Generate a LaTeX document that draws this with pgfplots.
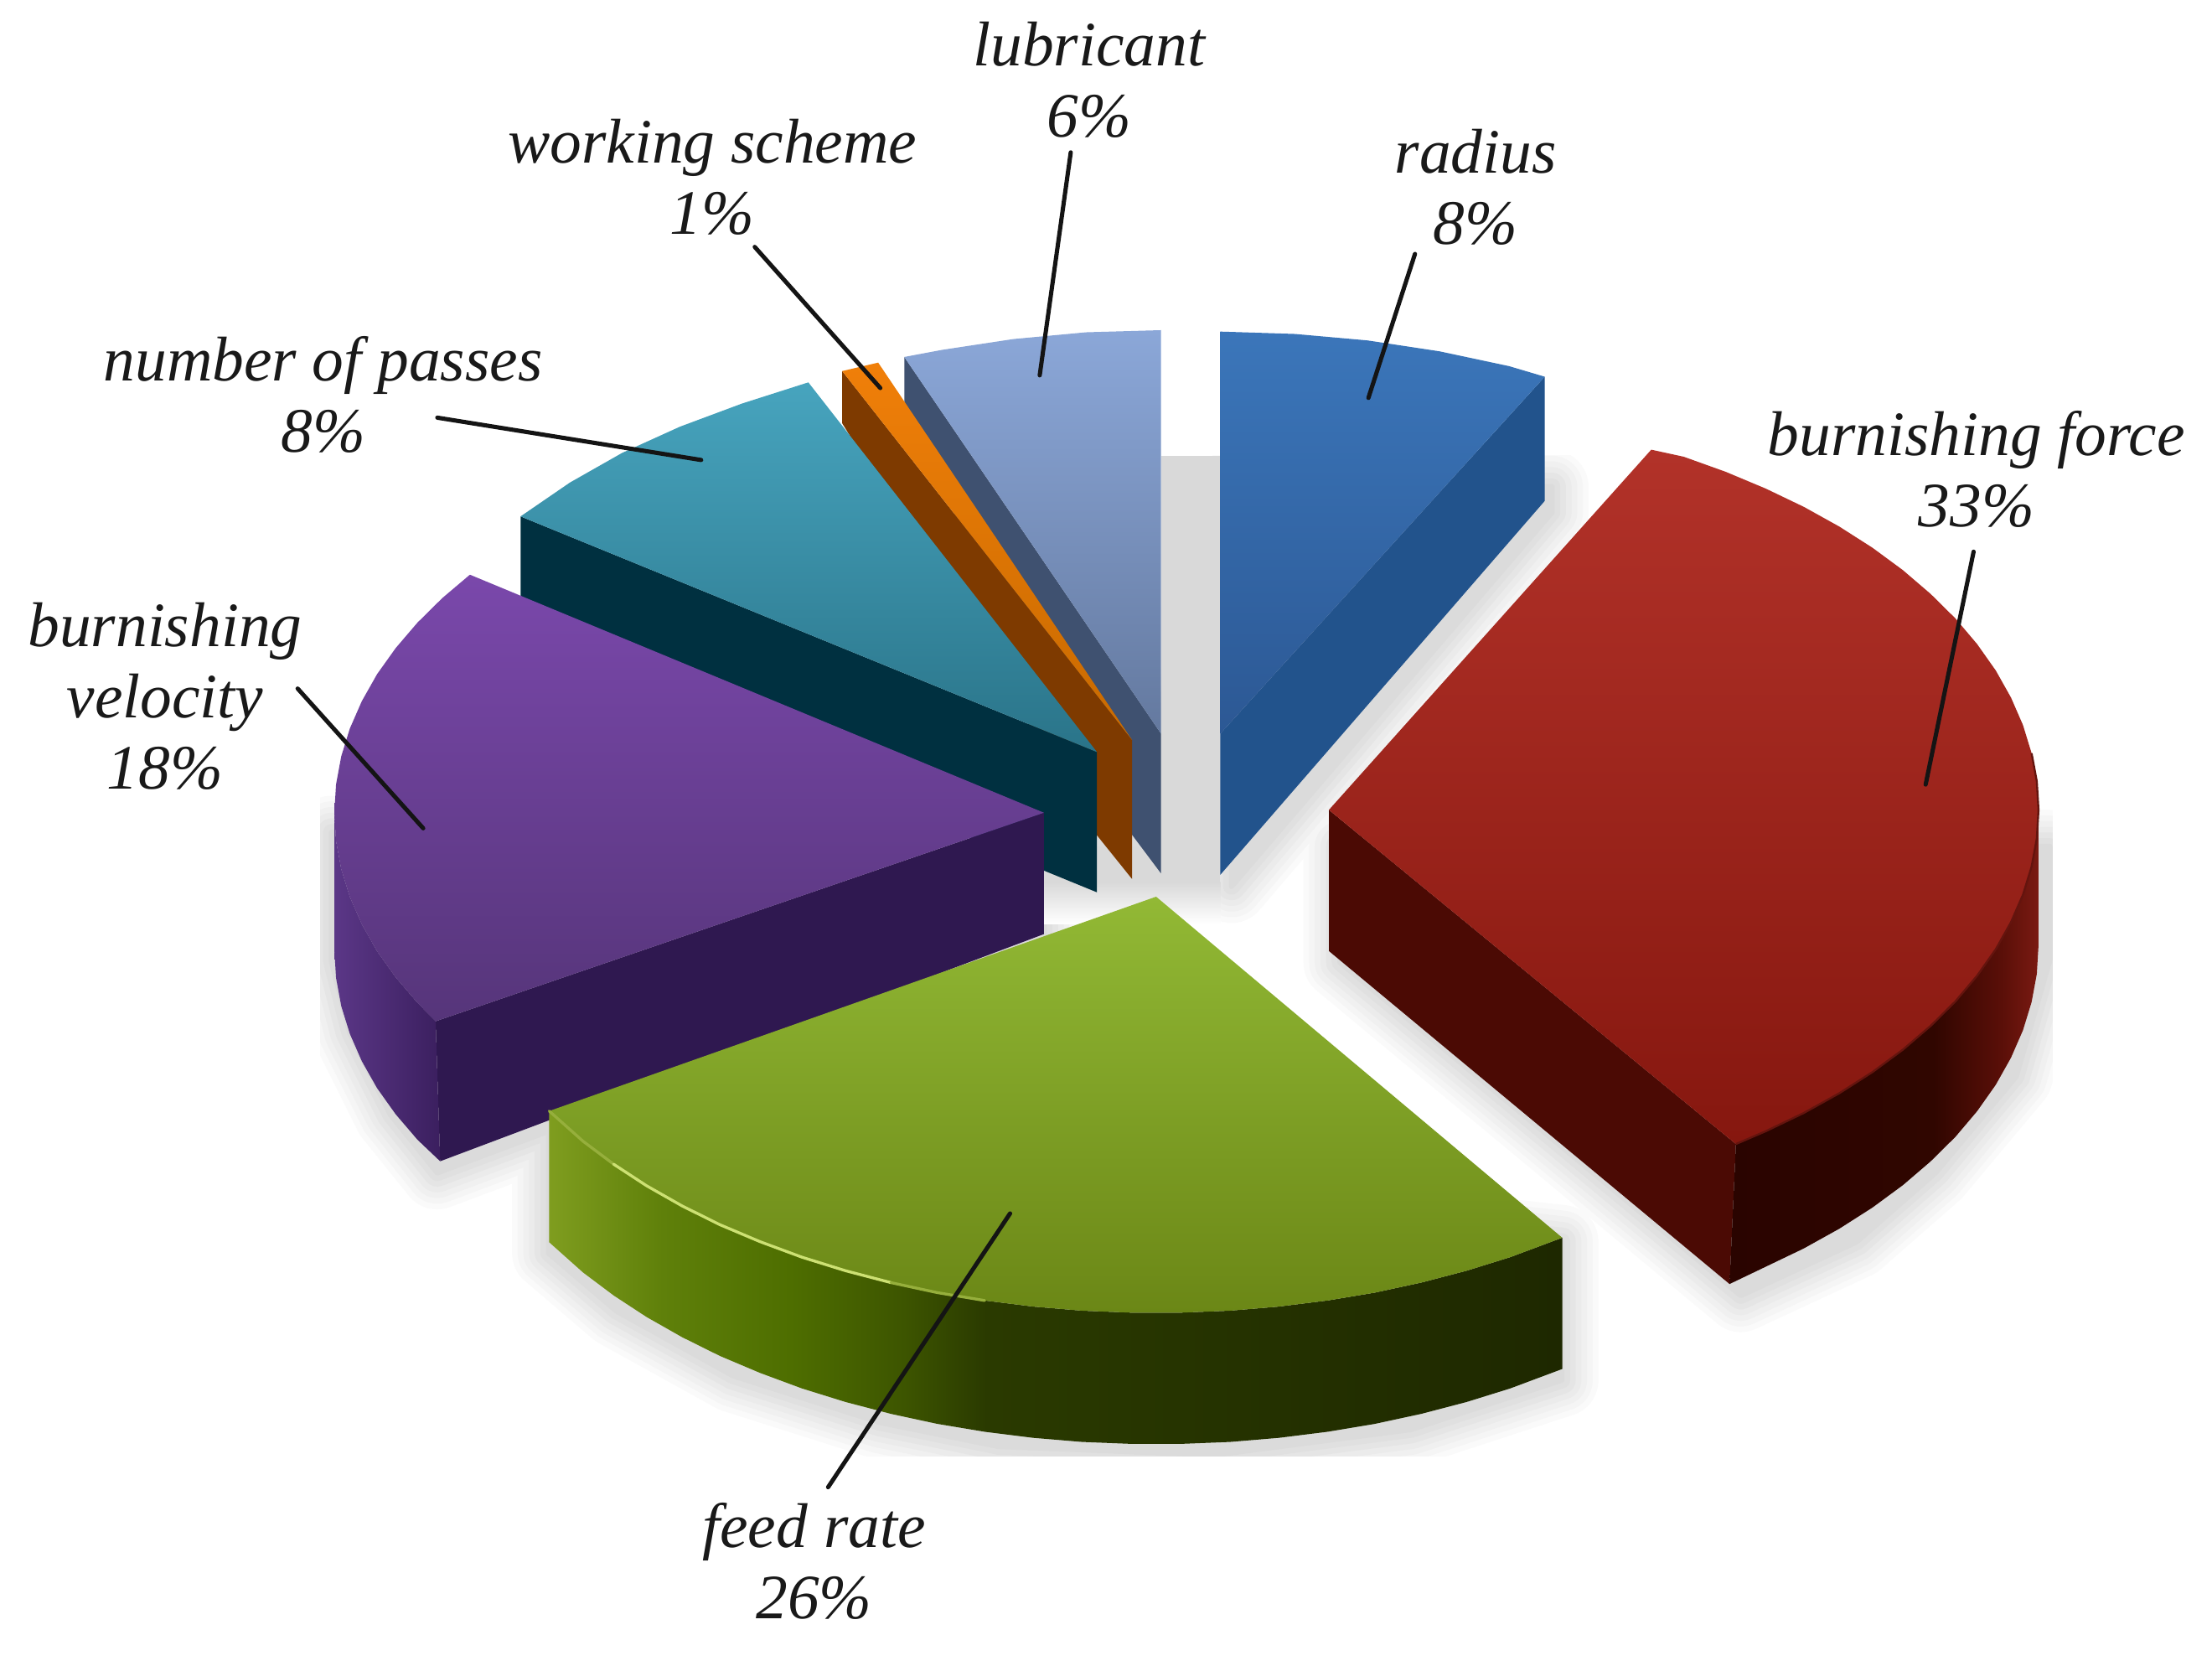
\documentclass[border=0pt]{standalone}
\usepackage{pgfplots}
\pgfplotsset{compat=1.18}
\usepackage{pgfplotstable}
\usepackage{fontspec}
\setmainfont{Liberation Serif}
\definecolor{gs1}{HTML}{7F9D1F}\definecolor{gs2}{HTML}{5F800A}\definecolor{gs3}{HTML}{4E6E00}
\definecolor{gs4}{HTML}{3D5500}\definecolor{gs5}{HTML}{2A3A00}\definecolor{gs6}{HTML}{1E2800}
\definecolor{rs1}{HTML}{2A0400}\definecolor{rs2}{HTML}{300600}\definecolor{rs3}{HTML}{5A0F08}\definecolor{rs4}{HTML}{7A1A12}
\definecolor{ps1}{HTML}{5B3787}\definecolor{ps2}{HTML}{3B1F5F}
\pgfdeclarehorizontalshading{greenside}{100bp}{color(0bp)=(gs1);color(25bp)=(gs1);color(30.6bp)=(gs2);color(36.9bp)=(gs3);color(42.5bp)=(gs4);color(46.6bp)=(gs5);color(75bp)=(gs6);color(100bp)=(gs6)}
\pgfdeclarehorizontalshading{redside}{100bp}{color(0bp)=(rs1);color(25bp)=(rs1);color(58bp)=(rs2);color(69bp)=(rs3);color(75bp)=(rs4);color(100bp)=(rs4)}
\pgfdeclarehorizontalshading{purpleside}{100bp}{color(0bp)=(ps1);color(25bp)=(ps1);color(75bp)=(ps2);color(100bp)=(ps2)}
\pgfplotstableread{
x y
950 682
1234 918
1316 880
1372 831
1429 763
1453 680
1453 600
950 600
}\shRed
\pgfplotstableread{
x y
389 888
437 929
520 975
624 1008
708 1025
861 1031
1000 1013
1107 978
1107 880
389 800
}\shGreen
\pgfplotstableread{
x y
235 681
248 732
277 790
310 831
740 670
740 590
235 590
}\shPurple
\pgfplotstableread{
x y
873 628
1100 363
1100 345
873 345
}\shBlue
\pgfplotstableread{
x y
740 625
777 640
802 631
823 627
823 500
740 500
}\shBack
\newcommand\shadowlayer[2]{%
  \addplot[draw=black!#2,fill=black!#2,line width=#1pt,line join=round] table {\shRed} --cycle;
  \addplot[draw=black!#2,fill=black!#2,line width=#1pt,line join=round] table {\shGreen} --cycle;
  \addplot[draw=black!#2,fill=black!#2,line width=#1pt,line join=round] table {\shPurple} --cycle;
  \addplot[draw=black!#2,fill=black!#2,line width=#1pt,line join=round] table {\shBlue} --cycle;
  \addplot[draw=black!#2,fill=black!#2,line width=#1pt,line join=round] table {\shBack} --cycle;
}
\tikzset{lbl/.style={font=\fontsize{22.4}{25.2}\selectfont\itshape,align=center,text=black!90,inner sep=0pt},
 lead/.style={draw=black!92,line width=1.5pt,line cap=round}}
\begin{document}
\begin{tikzpicture}
\begin{axis}[scale only axis,width=784pt,height=588.5pt,xmin=0,xmax=1568,ymin=0,ymax=1177,y dir=reverse,axis lines=none,clip=false]
\addplot[draw=none,fill=white] coordinates {(0,0)(1568,0)(1568,1177)(0,1177)} --cycle;
% soft shadow, held inside its rectangle
\begin{scope}
\clip (axis cs:227,323) rectangle (axis cs:1455,1032);
\shadowlayer{26}{2}
\shadowlayer{22}{4}
\shadowlayer{18}{6}
\shadowlayer{14}{8}
\shadowlayer{10}{10}
\shadowlayer{6}{12}
\shadowlayer{2}{14}
\addplot[draw=none,fill=black!15] coordinates {(823,323)(865,323)(865,625)(823,625)} --cycle;
\addplot[draw=none,fill=black!15] coordinates {(735,600)(865,600)(865,625)(735,625)} --cycle;
\addplot[draw=none,top color=black!15,bottom color=white] coordinates {(735,625)(865,625)(865,655)(735,655)} --cycle;
\end{scope}
% radius
\addplot[draw=none,fill={rgb,255:red,34;green,83;blue,140}] coordinates {(1095,267)(1095,355)(865,620)(865,520)} --cycle;
\addplot[draw=none,top color={rgb,255:red,59;green,118;blue,186},bottom color={rgb,255:red,44;green,88;blue,148}] coordinates {(865,235)(918,236.7)(969.6,241.3)(1020.4,249)(1069.7,259.5)(1095,267)(865,520)} --cycle;
% lubricant
\addplot[draw=none,fill={rgb,255:red,63;green,81;blue,112}] coordinates {(641,253)(823,520)(823,619)(802,591)(641,300)} --cycle;
\addplot[draw=none,top color={rgb,255:red,139;green,167;blue,216},bottom color={rgb,255:red,100;green,121;blue,159}] coordinates {(823,234)(770,235.5)(718.4,240.3)(667.6,248)(641,253)(823,520)} --cycle;
% working scheme
\addplot[draw=none,fill={rgb,255:red,126;green,58;blue,0}] coordinates {(597,263)(802.5,524.5)(802.5,623)(777.6,592)(597,300)} --cycle;
\addplot[draw=none,top color={rgb,255:red,240;green,127;blue,9},bottom color={rgb,255:red,200;green,106;blue,0}] coordinates {(597,263)(622.5,257)(802.5,524.5)} --cycle;
% number of passes
\addplot[draw=none,fill={rgb,255:red,0;green,48;blue,64}] coordinates {(369,366)(777.6,533)(777.6,632.4)(740,617)(369,450)} --cycle;
\addplot[draw=none,top color={rgb,255:red,71;green,164;blue,190},bottom color={rgb,255:red,42;green,116;blue,137}] coordinates {(573,271)(526,286)(482,302.4)(441,321)(404,342)(369,366)(777.6,533)} --cycle;
% burnishing velocity
\addplot[draw=none,fill={rgb,255:red,47;green,24;blue,80}] coordinates {(740,576)(740,662)(312,823)(308.8,723.8)} --cycle;
\addplot[draw=none,shading=purpleside] coordinates {(308.8,723.8)(295.9,710.7)(280.5,692.7)(267.3,674.2)(256.5,655.1)(248,635.7)(241.9,616)(238.2,596)(237,576)(237,673)(238.2,693)(241.9,713)(248,732.7)(256.5,752.1)(267.3,771.2)(280.5,789.7)(295.9,807.7)(312,823)} --cycle;
\addplot[draw=none,top color={rgb,255:red,122;green,72;blue,171},bottom color={rgb,255:red,86;green,53;blue,122}] coordinates {(740,576)(333.1,407.3)(313.5,423.9)(295.9,441.3)(280.5,459.3)(267.3,477.8)(256.5,496.9)(248,516.3)(241.9,536)(238.2,556)(237,576)(238.2,596)(241.9,616)(248,635.7)(256.5,655.1)(267.3,674.2)(280.5,692.7)(295.9,710.7)(308.8,723.8)} --cycle;
% burnishing force
\addplot[draw=none,fill={rgb,255:red,75;green,10;blue,4}] coordinates {(942,574)(942,674)(1226,910)(1230.5,810.8)} --cycle;
\addplot[draw=none,shading=redside] coordinates {(1230.5,810.8)(1251.7,801.7)(1278.6,788.8)(1303.8,774.8)(1327.3,759.8)(1348.9,743.9)(1368.5,727.1)(1386.1,709.7)(1401.5,691.5)(1414.7,672.8)(1425.5,653.6)(1434,634.1)(1440.1,614.2)(1443.8,594.2)(1445,574)(1445,670)(1443.8,690.2)(1440.1,710.2)(1434,730.1)(1425.5,749.6)(1414.7,768.8)(1401.5,787.5)(1386.1,805.7)(1368.5,823.1)(1348.9,839.9)(1327.3,855.8)(1303.8,870.8)(1278.6,884.8)(1251.7,897.7)(1226,910)} --cycle;
\addplot[draw=none,top color={rgb,255:red,178;green,50;blue,41},bottom color={rgb,255:red,134;green,23;blue,15}] coordinates {(1170.5,318.7)(1193.5,323.7)(1223.3,334.4)(1251.7,346.3)(1278.6,359.2)(1303.8,373.2)(1327.3,388.2)(1348.9,404.1)(1368.5,420.9)(1386.1,438.3)(1401.5,456.5)(1414.7,475.2)(1425.5,494.4)(1434,513.9)(1440.1,533.8)(1443.8,553.8)(1445,574)(1443.8,594.2)(1440.1,614.2)(1434,634.1)(1425.5,653.6)(1414.7,672.8)(1401.5,691.5)(1386.1,709.7)(1368.5,727.1)(1348.9,743.9)(1327.3,759.8)(1303.8,774.8)(1278.6,788.8)(1251.7,801.7)(1230.5,810.8)(942,574)} --cycle;
\addplot[draw={rgb,255:red,100;green,20;blue,14},line width=0.7pt,line join=round] coordinates {(1440.1,533.8)(1443.8,553.8)(1445,574)(1443.8,594.2)(1440.1,614.2)(1434,634.1)(1425.5,653.6)(1414.7,672.8)(1401.5,691.5)(1386.1,709.7)(1368.5,727.1)(1348.9,743.9)(1327.3,759.8)(1303.8,774.8)(1278.6,788.8)(1251.7,801.7)(1230.5,810.8)};
% feed rate
\addplot[draw=none,shading=greenside] coordinates {(1107.4,877.2)(1070.5,891)(1039.6,900.6)(1007.5,909)(974.6,916.1)(941,921.7)(906.6,926)(872,928.9)(837,930.3)(802,930.3)(767,928.9)(732.4,926)(698,921.7)(664.4,916.1)(631.5,909)(599.4,900.6)(568.5,891)(538.8,880)(510.4,868)(483.6,854.7)(458.4,840.4)(435,825.1)(413.4,808.9)(389.3,787.4)(389.3,880.4)(413.4,901.9)(435,918.1)(458.4,933.4)(483.6,947.7)(510.4,961)(538.8,973)(568.5,984)(599.4,993.6)(631.5,1002)(664.4,1009.1)(698,1014.7)(732.4,1019)(767,1021.9)(802,1023.3)(837,1023.3)(872,1021.9)(906.6,1019)(941,1014.7)(974.6,1009.1)(1007.5,1002)(1039.6,993.6)(1070.5,984)(1107.4,970.2)} --cycle;
\addplot[draw=none,top color={rgb,255:red,146;green,185;blue,53},bottom color={rgb,255:red,107;green,135;blue,22}] coordinates {(819.5,635.5)(1107.4,877.2)(1070.5,891)(1039.6,900.6)(1007.5,909)(974.6,916.1)(941,921.7)(906.6,926)(872,928.9)(837,930.3)(802,930.3)(767,928.9)(732.4,926)(698,921.7)(664.4,916.1)(631.5,909)(599.4,900.6)(568.5,891)(538.8,880)(510.4,868)(483.6,854.7)(458.4,840.4)(435,825.1)(413.4,808.9)(389.3,787.4)} --cycle;
\addplot[draw={rgb,255:red,150;green,175;blue,60},line width=1pt,line cap=round] coordinates {(389.3,787.4)(413.4,808.9)(435,825.1)};
\addplot[draw={rgb,255:red,205;green,225;blue,115},line width=1pt,line cap=round] coordinates {(435,825.1)(458.4,840.4)(483.6,854.7)(510.4,868)(538.8,880)(568.5,891)(599.4,900.6)(631.5,909)};
\addplot[draw={rgb,255:red,150;green,175;blue,60},line width=1pt,line cap=round] coordinates {(631.5,909)(664.4,916.1)(698,921.7)};
% leader lines
\addplot[lead] coordinates {(1003,180)(970,282)};
\addplot[lead] coordinates {(1399,391)(1365,556)};
\addplot[lead] coordinates {(759,108)(737,266)};
\addplot[lead] coordinates {(535,175)(624,275)};
\addplot[lead] coordinates {(310,296)(497,326)};
\addplot[lead] coordinates {(211,488)(300,587)};
\addplot[lead] coordinates {(716,860)(587,1054)};
% labels
\node[lbl] at (axis cs:1046,132.5) {radius\\8\%};
\node[lbl] at (axis cs:1401,332.5) {burnishing force\\33\%};
\node[lbl] at (axis cs:772,56.5) {lubricant\\6\%};
\node[lbl] at (axis cs:505,125.5) {working scheme\\1\%};
\node[lbl] at (axis cs:229,279.5) {number of passes\\8\%};
\node[lbl] at (axis cs:117,493.5) {burnishing\\velocity\\18\%};
\node[lbl] at (axis cs:577,1106.5) {feed rate\\26\%};
\end{axis}
\end{tikzpicture}
\end{document}
